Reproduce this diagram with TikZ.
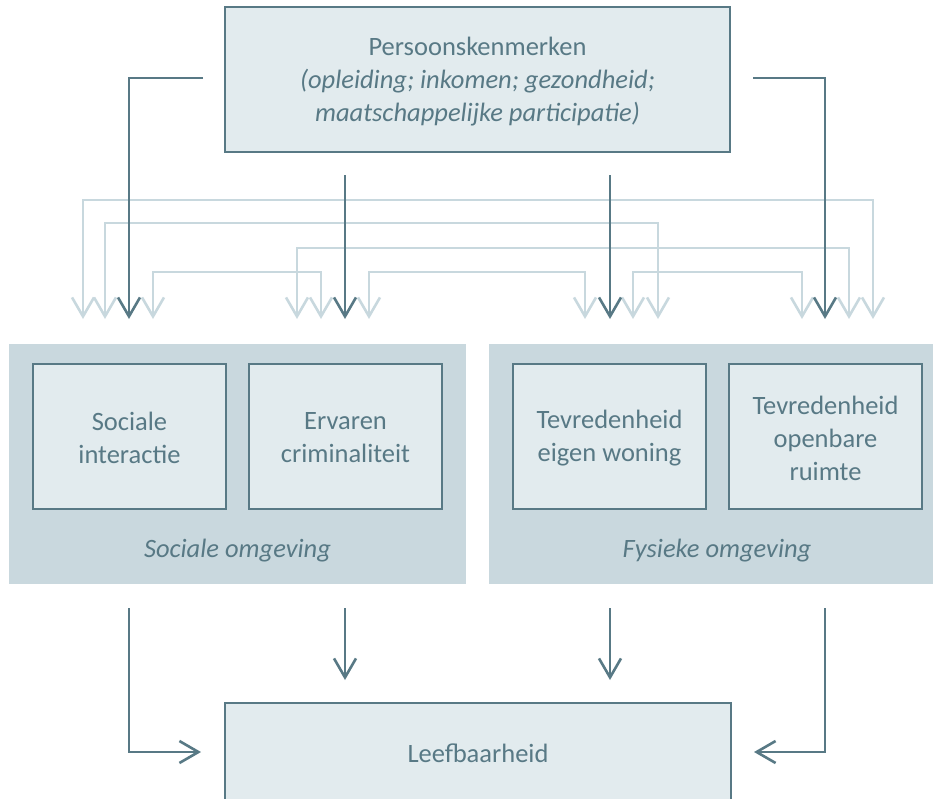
\documentclass[tikz,border=0pt]{standalone}
\usepackage{fontspec}
\setmainfont{Carlito}
\usetikzlibrary{arrows.meta}
\definecolor{dark}{HTML}{587985}
\definecolor{lightl}{HTML}{C8D8DE}
\definecolor{boxfill}{HTML}{E2EBEE}
\definecolor{panelfill}{HTML}{C9D8DE}
\definecolor{txt}{HTML}{587985}
\begin{document}
\begin{tikzpicture}[x=1pt,y=-1pt,
  every node/.style={text=txt,font=\fontsize{26.5}{33}\selectfont,align=center},
  boxnode/.style={draw=dark,line width=2pt,fill=boxfill,inner sep=0pt},
  panel/.style={fill=panelfill,inner sep=0pt},
  darkarrow/.style={draw=dark,line width=2.6pt,-{Straight Barb[length=19pt,width=22pt]}},
  lightarrow/.style={draw=lightl,line width=2.6pt,{Straight Barb[length=19pt,width=22pt]}-{Straight Barb[length=19pt,width=22pt]}}
]
\useasboundingbox (0,0) rectangle (933,798);
% top box
\node[boxnode,minimum width=505pt,minimum height=145pt] (pk) at (477.5,79.5) {};
\node (pkt) at (477.5,82) {Persoonskenmerken\\\itshape (opleiding; inkomen; gezondheid;\\\itshape maatschappelijke participatie)};
% panels
\node[panel,minimum width=457pt,minimum height=240pt] (soc) at (237.5,464) {};
\node[panel,minimum width=444pt,minimum height=240pt] (fys) at (711,464) {};
\node (socl) at (237.5,551) {\itshape Sociale omgeving};
\node (fysl) at (717,551) {\itshape Fysieke omgeving};
% inner boxes
\node[boxnode,minimum width=193pt,minimum height=145pt] (si) at (129.5,436.5) {};
\node at (129.5,438) {Sociale\\interactie};
\node[boxnode,minimum width=193pt,minimum height=145pt] (ec) at (345.5,436.5) {};
\node at (345.5,438) {Ervaren\\criminaliteit};
\node[boxnode,minimum width=193pt,minimum height=145pt] (tw) at (609.5,436.5) {};
\node at (609.5,438) {Tevredenheid\\eigen woning};
\node[boxnode,minimum width=193pt,minimum height=145pt] (to) at (825.5,436.5) {};
\node at (825.5,438) {Tevredenheid\\openbare\\ruimte};
% bottom box
\node[boxnode,minimum width=506pt,minimum height=110pt] (lb) at (478,758) {};
\node at (478,753) {Leefbaarheid};
% coordinates
\coordinate (d1s) at (203,78);
\coordinate (d1e) at (129,319);
\coordinate (d2s) at (345,175);
\coordinate (d2e) at (345,319);
\coordinate (d3s) at (610,175);
\coordinate (d3e) at (610,319);
\coordinate (d4s) at (753,78);
\coordinate (d4e) at (825,319);
% light arrows
\coordinate (a1) at (83,319); \coordinate (a2) at (873,319);
\coordinate (b1) at (105,319); \coordinate (b2) at (658,319);
\coordinate (c1) at (297,319); \coordinate (c2) at (849,319);
\coordinate (e1) at (153,319); \coordinate (e2) at (321,319);
\coordinate (f1) at (369,319); \coordinate (f2) at (585,319);
\coordinate (g1) at (633,319); \coordinate (g2) at (802,319);
\draw[lightarrow] (a1) -- (83,200) -- (873,200) -- (a2);
\draw[lightarrow] (b1) -- (105,223) -- (658,223) -- (b2);
\draw[lightarrow] (c1) -- (297,248) -- (849,248) -- (c2);
\draw[lightarrow] (e1) -- (153,272) -- (321,272) -- (e2);
\draw[lightarrow] (f1) -- (369,272) -- (585,272) -- (f2);
\draw[lightarrow] (g1) -- (633,272) -- (802,272) -- (g2);
% dark arrows from top (over light)
\draw[darkarrow] (d1s) -| (d1e);
\draw[darkarrow] (d2s) -- (d2e);
\draw[darkarrow] (d3s) -- (d3e);
\draw[darkarrow] (d4s) -| (d4e);
% bottom arrows
\coordinate (l1) at (129,608);
\coordinate (l2) at (345,608);
\coordinate (l3) at (610,608);
\coordinate (l4) at (825,608);
\draw[darkarrow] (l1) |- (201,752);
\draw[darkarrow] (l2) -- (345,680);
\draw[darkarrow] (l3) -- (610,680);
\draw[darkarrow] (l4) |- (754,752);
\end{tikzpicture}
\end{document}
